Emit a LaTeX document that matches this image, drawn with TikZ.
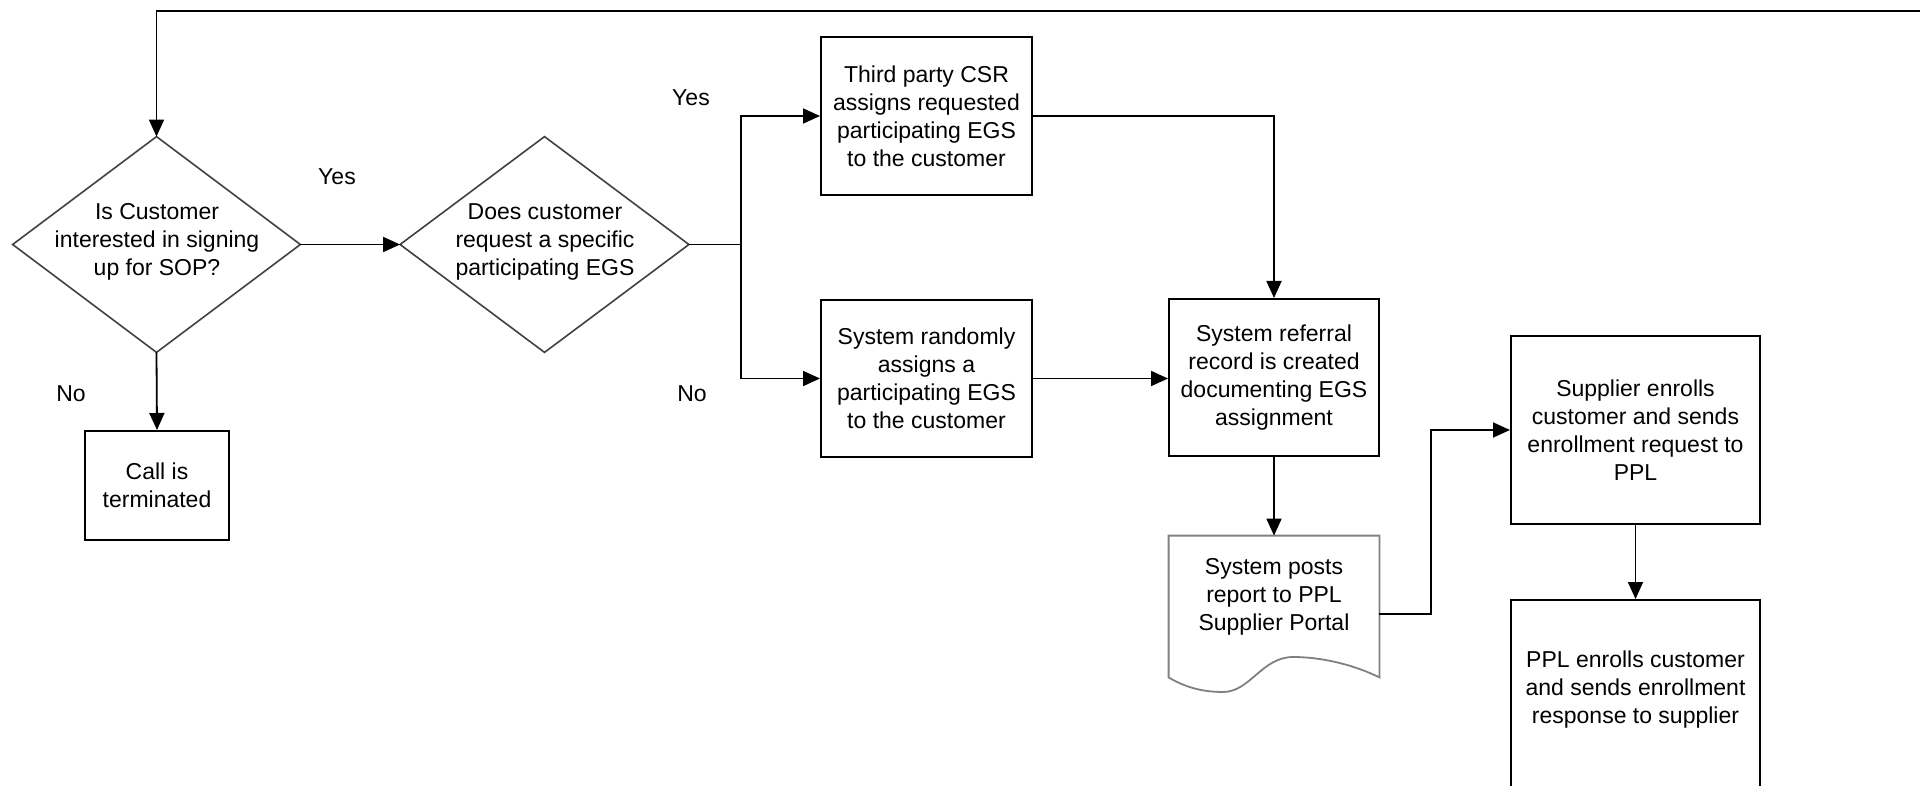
\documentclass[tikz,border=0pt]{standalone}
\usepackage{fontspec}
\setmainfont{Liberation Sans}
\usetikzlibrary{arrows.meta,calc}
\tikzset{
  txt/.style={font=\fontsize{11.5pt}{14pt}\selectfont, align=center, inner sep=0pt},
  box/.style={txt, draw=black, line width=1pt},
  frame/.style={inner sep=0pt},
  diamondline/.style={draw=black!75, line width=0.8pt},
  docline/.style={draw=black!50, line width=0.9pt},
  conn/.style={draw=black, line width=0.9pt, -{Triangle[length=8.5pt,width=7.5pt]}},
  plainline/.style={draw=black, line width=0.9pt},
}
\begin{document}
\begin{tikzpicture}[x=0.5pt,y=-0.5pt]
\useasboundingbox (0,0) rectangle (1929,786);
\clip (0,0) rectangle (1929,786);
% diamonds (frames)
\node[frame, minimum width=143.5pt, minimum height=107.5pt] (d1) at (156.5,244.5) {};
\node[frame, minimum width=144pt, minimum height=107.5pt] (d2) at (544.5,244.5) {};
\draw[diamondline] (d1.north) -- (d1.east) -- (d1.south) -- (d1.west) -- cycle;
\draw[diamondline] (d2.north) -- (d2.east) -- (d2.south) -- (d2.west) -- cycle;
\node[txt] (d1t) at (157,242) {Is Customer\\interested in signing\\up for SOP?};
\node[txt] (d2t) at (545,242) {Does customer\\request a specific\\participating EGS};
% boxes
\node[box, minimum width=72pt, minimum height=54.5pt] (G) at (157,485.5) {Call is\\terminated};
\node[box, minimum width=105.5pt, minimum height=79pt] (A) at (926.5,116) {Third party CSR\\assigns requested\\participating EGS\\to the customer};
\node[box, minimum width=105.5pt, minimum height=78.5pt] (B) at (926.5,378.5) {System randomly\\assigns a\\participating EGS\\to the customer};
\node[box, minimum width=105pt, minimum height=78.5pt] (C) at (1274,377.5) {System referral\\record is created\\documenting EGS\\assignment};
\node[box, minimum width=124.5pt, minimum height=94pt] (E) at (1635.5,430) {Supplier enrolls\\customer and sends\\enrollment request to\\PPL};
\node[box, minimum width=124.5pt, minimum height=98pt] (F) at (1635.5,698) {};
\node[txt] (Ft) at (1635.5,690) {PPL enrolls customer\\and sends enrollment\\response to supplier};
% document
\node[frame, minimum width=105pt, minimum height=70.5pt] (doc) at (1274,606.5) {};
\draw[docline] (doc.north west) -- (doc.north east) -- (doc.south east)
  .. controls (1350,663) and (1318,657) .. (1293,657)
  .. controls (1262,657) and (1250,692) .. (1223,692)
  .. controls (1200,692) and (1183,686) .. (doc.south west) -- cycle;
\node[txt] (doct) at (1274,597) {System posts\\report to PPL\\Supplier Portal};
% labels
\node[txt] (yes1) at (337,177) {Yes};
\node[txt] (yes2) at (691,98) {Yes};
\node[txt] (no1) at (71,394) {No};
\node[txt] (no2) at (692,394) {No};
% connectors
\coordinate (loopend) at (1920,11);
\draw[conn] (loopend) -| (d1.north);
\draw[conn] (d1.east) -- (d2.west);
\draw[conn] (d1.south) -- (G.north);
\coordinate (split) at (741,244.5);
\draw[plainline] (d2.east) -- (split);
\draw[conn] (split) |- (A.west);
\draw[conn] (split) |- (B.west);
\draw[conn] (A.east) -| (C.north);
\draw[conn] (B.east) -- (B.east -| C.west);
\draw[conn] (C.south) -- (doc.north);
\coordinate (docr) at ([yshift=-3.75pt]doc.east);
\coordinate (bendx) at (1431,614);
\draw[conn] (docr) -- (bendx) |- (E.west);
\draw[conn] (E.south) -- (F.north);
\end{tikzpicture}
\end{document}
